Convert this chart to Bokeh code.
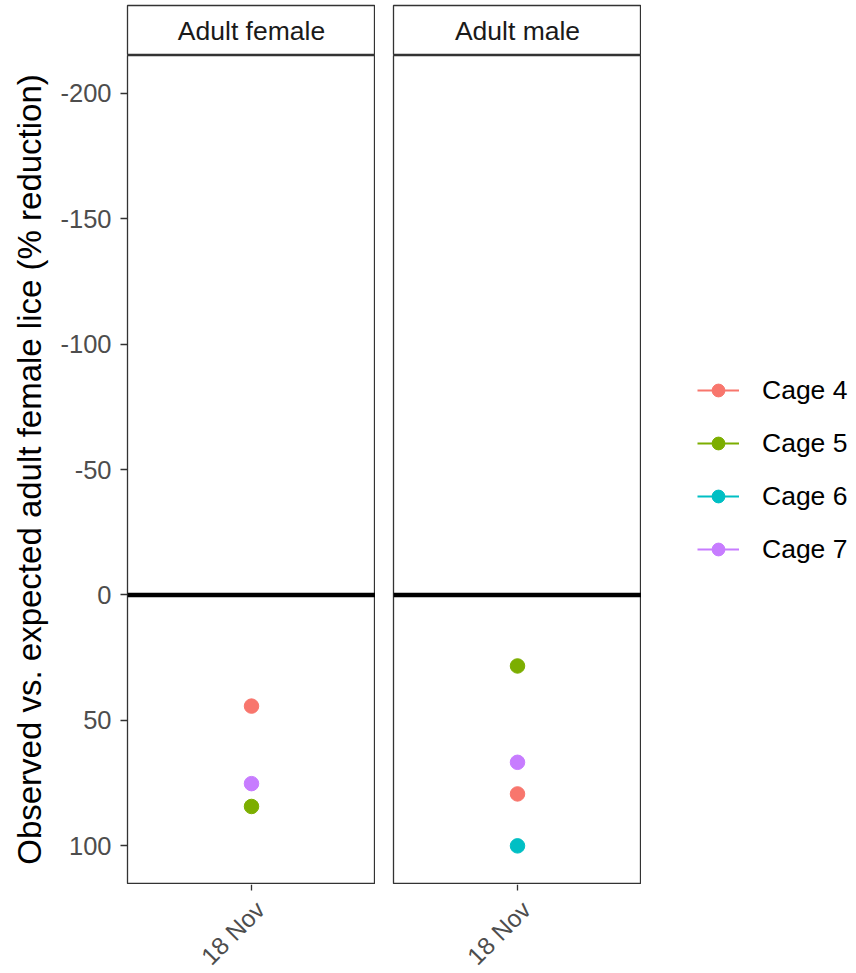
import math

from bokeh.embed import file_html
from bokeh.layouts import column, row
from bokeh.models import (ColumnDataSource, FactorRange, FixedTicker, Label,
                          Legend, LegendItem, Range1d, Span)
from bokeh.plotting import figure
from bokeh.resources import INLINE

FONT = "Liberation Sans"

# ---- data -------------------------------------------------------------
facets = ["Adult female", "Adult male"]
dates = ["18 Nov"]
cages = ["Cage 4", "Cage 5", "Cage 6", "Cage 7"]
cage_colors = ["#F8766D", "#7CAE00", "#00BFC4", "#C77CFF"]

female_cage = ["Cage 4", "Cage 5", "Cage 7"]
female_pct = [44.3, 84.3, 75.2]

male_cage = ["Cage 4", "Cage 5", "Cage 6", "Cage 7"]
male_pct = [79.3, 28.3, 100.0, 66.7]

y_ticks = [-200, -150, -100, -50, 0, 50, 100]
y_title = "Observed vs. expected adult female lice (% reduction)"

# ---- layout constants ---------------------------------------------------
FRAME_W = 248
FRAME_H = 828
AXIS_SPACE = 127
GAP = 18
STRIP_H = 50
TOP = 5
PANEL_PAD = 1
LABEL_H = 89
LEGEND_W = 215
TEXT_SIZE = "25.5px"
DATE_SIZE = "24.5px"
TICK_COLOR = "#333333"

color_of = dict(zip(cages, cage_colors))


def strip(title, left):
    s = figure(width=left + FRAME_W, height=TOP + STRIP_H,
               x_range=Range1d(0, 1), y_range=Range1d(0, 1),
               x_axis_type=None, y_axis_type=None,
               min_border_left=left, min_border_right=0,
               min_border_top=TOP, min_border_bottom=0,
               output_backend="svg", toolbar_location=None)
    s.grid.visible = False
    s.outline_line_color = TICK_COLOR
    s.outline_line_width = 1.3
    s.add_layout(Label(x=0.5, y=0.5, text=title, text_align="center",
                       text_baseline="middle", text_color="#1A1A1A",
                       text_font=FONT, text_font_size="26.5px"))
    return s


def panel(cage_list, pct, left, show_y):
    p = figure(width=left + FRAME_W, height=FRAME_H + PANEL_PAD,
               x_range=FactorRange(*dates), y_range=Range1d(115, -215),
               x_axis_location=None,
               min_border_left=left, min_border_right=0,
               min_border_top=0, min_border_bottom=PANEL_PAD,
               output_backend="svg", toolbar_location=None)
    p.grid.visible = False
    p.outline_line_color = TICK_COLOR
    p.outline_line_width = 1.3

    p.add_layout(Span(location=0, dimension="width",
                      line_color="black", line_width=4.5))

    src = ColumnDataSource(dict(
        x=[dates[0]] * len(pct), y=pct,
        c=[color_of[c] for c in cage_list]))
    p.scatter("x", "y", source=src, color="c", size=14.5)

    ya = p.yaxis[0]
    if show_y:
        ya.ticker = FixedTicker(ticks=y_ticks)
        ya.major_label_overrides = {t: str(t) for t in y_ticks}
        ya.axis_line_color = None
        ya.major_tick_line_color = TICK_COLOR
        ya.major_tick_line_width = 1.3
        ya.major_tick_out = 7
        ya.major_tick_in = 0
        ya.minor_tick_line_color = None
        ya.major_label_standoff = 9
        ya.major_label_text_font = FONT
        ya.major_label_text_font_size = TEXT_SIZE
        ya.major_label_text_color = "#4D4D4D"
        ya.axis_label = y_title
        ya.axis_label_text_font = FONT
        ya.axis_label_text_font_size = "33px"
        ya.axis_label_text_font_style = "normal"
        ya.axis_label_text_color = "black"
        ya.axis_label_standoff = 9
    else:
        ya.visible = False
    return p


def date_axis(panel_fig, left):
    """Tick marks and 45-degree date labels under a panel (y in pixels)."""
    d = figure(width=left + FRAME_W, height=LABEL_H,
               x_range=panel_fig.x_range, y_range=Range1d(-LABEL_H, 0),
               x_axis_type=None, y_axis_type=None,
               min_border_left=left, min_border_right=0,
               min_border_top=0, min_border_bottom=0,
               output_backend="svg", toolbar_location=None)
    d.grid.visible = False
    d.outline_line_color = None
    d.segment(x0=dates, y0=[0] * len(dates), x1=dates, y1=[-6] * len(dates),
              line_color=TICK_COLOR, line_width=1.3)
    d.text(x=dates, y=[0] * len(dates), text=dates, angle=math.pi / 4,
           x_offset=9, y_offset=21, text_align="right",
           text_baseline="alphabetic", text_color="#4D4D4D",
           text_font={"value": FONT}, text_font_size={"value": DATE_SIZE})
    return d


s1 = strip(facets[0], AXIS_SPACE)
s2 = strip(facets[1], GAP)
p1 = panel(female_cage, female_pct, AXIS_SPACE, True)
p2 = panel(male_cage, male_pct, GAP, False)
d1 = date_axis(p1, AXIS_SPACE)
d2 = date_axis(p2, GAP)

# ---- legend -------------------------------------------------------------
lg = figure(width=LEGEND_W,
            height=TOP + STRIP_H + FRAME_H + PANEL_PAD + LABEL_H,
            x_range=Range1d(0, 1), y_range=Range1d(0, 1),
            x_axis_type=None, y_axis_type=None, min_border=0,
            output_backend="svg", toolbar_location=None)
lg.grid.visible = False
lg.outline_line_color = None

items = []
for cage, col in zip(cages, cage_colors):
    key_src = ColumnDataSource(dict(x=[float("nan")], y=[float("nan")]))
    r_line = lg.line("x", "y", source=key_src, line_color=col, line_width=2)
    r_pt = lg.scatter("x", "y", source=key_src, color=col, size=12)
    items.append(LegendItem(label=cage, renderers=[r_line, r_pt]))

legend = Legend(items=items, location=(56, 408),
                glyph_width=42, glyph_height=32, label_height=32,
                spacing=21, label_standoff=23, padding=0, margin=0,
                border_line_color=None, background_fill_alpha=0,
                label_text_font=FONT, label_text_font_size="26.5px",
                label_text_color="black", label_text_baseline="middle")
lg.add_layout(legend)

layout = row(column(row(s1, s2), row(p1, p2), row(d1, d2)), lg)

with open("out.html", "w") as f:
    f.write(file_html(layout, INLINE))
